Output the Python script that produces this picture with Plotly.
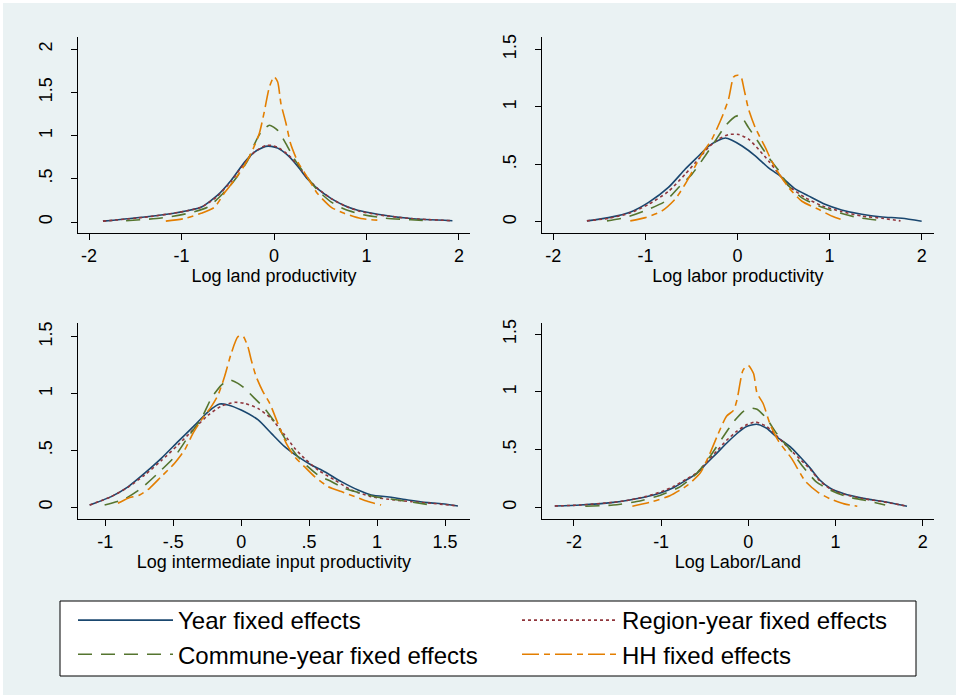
import plotly.graph_objects as go

W, H = 959, 698

series_names = ["Year fixed effects", "Region-year fixed effects",
                "Commune-year fixed effects", "HH fixed effects"]
series_colors = ["#1A476F", "#90353B", "#55752F", "#E37E00"]
series_dash = ["solid", "3px,3px", "14px,9px", "17px,5px,6px,5px"]

panel_titles = ["Log land productivity", "Log labor productivity",
                "Log intermediate input productivity", "Log Labor/Land"]

# ---- Panel 1: Log land productivity ----
land_year_x = [-1.85, -1.4, -1.04, -0.79, -0.61, -0.465, -0.32, -0.21, -0.09, -0.03, 0.04, 0.15, 0.26, 0.36, 0.47, 0.62, 0.76, 0.905, 1.12, 1.48, 1.93]
land_year_y = [0.01, 0.058, 0.11, 0.17, 0.31, 0.48, 0.69, 0.81, 0.875, 0.875, 0.855, 0.77, 0.64, 0.50, 0.385, 0.27, 0.19, 0.135, 0.09, 0.04, 0.015]
land_region_x = [-1.85, -1.4, -1.04, -0.79, -0.61, -0.465, -0.32, -0.21, -0.09, -0.03, 0.04, 0.15, 0.26, 0.36, 0.47, 0.62, 0.76, 0.905, 1.12, 1.48, 1.93]
land_region_y = [0.01, 0.055, 0.11, 0.17, 0.30, 0.47, 0.68, 0.81, 0.885, 0.886, 0.865, 0.78, 0.655, 0.51, 0.39, 0.27, 0.19, 0.13, 0.085, 0.04, 0.015]
land_commune_x = [-1.6, -1.22, -0.93, -0.72, -0.57, -0.43, -0.285, -0.21, -0.14, -0.05, 0.04, 0.13, 0.22, 0.33, 0.47, 0.62, 0.76, 0.94, 1.19, 1.48, 1.66]
land_commune_y = [0.015, 0.046, 0.10, 0.17, 0.31, 0.48, 0.71, 0.905, 1.04, 1.12, 1.06, 0.905, 0.73, 0.56, 0.37, 0.23, 0.15, 0.09, 0.046, 0.027, 0.015]
land_hh_x = [-1.17, -0.97, -0.79, -0.645, -0.54, -0.43, -0.32, -0.25, -0.16, -0.11, -0.05, 0.0, 0.04, 0.075, 0.13, 0.18, 0.26, 0.36, 0.47, 0.62, 0.76, 0.94, 1.14]
land_hh_y = [0.01, 0.04, 0.10, 0.17, 0.33, 0.48, 0.655, 0.79, 1.02, 1.25, 1.56, 1.68, 1.62, 1.37, 1.14, 0.905, 0.69, 0.52, 0.33, 0.17, 0.10, 0.04, 0.02]

# ---- Panel 2: Log labor productivity ----
labor_year_x = [-1.635, -1.4, -1.16, -0.965, -0.75, -0.567, -0.42, -0.313, -0.205, -0.13, -0.06, 0.05, 0.193, 0.338, 0.48, 0.63, 0.77, 0.95, 1.13, 1.35, 1.57, 1.786, 2.0]
labor_year_y = [0.01, 0.038, 0.087, 0.17, 0.30, 0.46, 0.575, 0.66, 0.71, 0.73, 0.71, 0.66, 0.575, 0.47, 0.39, 0.285, 0.227, 0.154, 0.105, 0.067, 0.044, 0.032, 0.006]
labor_region_x = [-1.635, -1.4, -1.16, -0.965, -0.75, -0.567, -0.42, -0.313, -0.205, -0.096, 0.013, 0.12, 0.23, 0.338, 0.45, 0.56, 0.74, 0.92, 1.13, 1.35, 1.57, 1.77]
labor_region_y = [0.01, 0.032, 0.08, 0.154, 0.265, 0.416, 0.55, 0.65, 0.72, 0.76, 0.76, 0.72, 0.63, 0.53, 0.416, 0.31, 0.21, 0.14, 0.09, 0.052, 0.032, 0.01]
labor_commune_x = [-1.417, -1.22, -1.0, -0.784, -0.64, -0.494, -0.35, -0.24, -0.13, -0.024, 0.03, 0.12, 0.23, 0.338, 0.45, 0.555, 0.70, 0.88, 1.06, 1.31, 1.59]
labor_commune_y = [0.01, 0.038, 0.10, 0.18, 0.30, 0.416, 0.575, 0.706, 0.837, 0.916, 0.925, 0.82, 0.69, 0.56, 0.445, 0.314, 0.21, 0.14, 0.09, 0.038, 0.01]
labor_hh_x = [-1.164, -1.0, -0.82, -0.675, -0.567, -0.476, -0.386, -0.277, -0.169, -0.096, -0.042, 0.0, 0.037, 0.067, 0.12, 0.193, 0.30, 0.41, 0.555, 0.70, 0.88, 1.03, 1.17]
labor_hh_y = [0.01, 0.038, 0.096, 0.20, 0.33, 0.46, 0.59, 0.72, 0.91, 1.07, 1.26, 1.275, 1.265, 1.17, 0.98, 0.82, 0.65, 0.47, 0.30, 0.18, 0.11, 0.05, 0.01]

# ---- Panel 3: Log intermediate input productivity ----
inter_year_x = [-1.115, -0.956, -0.833, -0.71, -0.588, -0.465, -0.343, -0.244, -0.159, -0.097, 0.0, 0.123, 0.222, 0.32, 0.418, 0.516, 0.614, 0.737, 0.86, 0.957, 1.105, 1.227, 1.374, 1.497, 1.595]
inter_year_y = [0.02, 0.094, 0.18, 0.30, 0.43, 0.577, 0.72, 0.84, 0.908, 0.90, 0.855, 0.77, 0.65, 0.533, 0.445, 0.372, 0.313, 0.226, 0.152, 0.108, 0.088, 0.064, 0.041, 0.029, 0.012]
inter_region_x = [-1.115, -0.956, -0.833, -0.71, -0.588, -0.465, -0.343, -0.244, -0.146, -0.048, 0.025, 0.123, 0.222, 0.32, 0.393, 0.466, 0.565, 0.688, 0.81, 0.957, 1.13, 1.25, 1.40, 1.595]
inter_region_y = [0.02, 0.094, 0.176, 0.284, 0.41, 0.548, 0.694, 0.81, 0.89, 0.923, 0.914, 0.87, 0.78, 0.636, 0.52, 0.43, 0.328, 0.24, 0.152, 0.094, 0.064, 0.05, 0.035, 0.012]
inter_commune_x = [-1.005, -0.858, -0.735, -0.612, -0.49, -0.39, -0.293, -0.22, -0.146, -0.085, -0.024, 0.025, 0.099, 0.172, 0.27, 0.344, 0.418, 0.491, 0.565, 0.663, 0.76, 0.884, 1.006, 1.154, 1.399]
inter_commune_y = [0.02, 0.073, 0.167, 0.30, 0.445, 0.62, 0.78, 0.958, 1.075, 1.12, 1.09, 1.046, 0.958, 0.87, 0.71, 0.563, 0.445, 0.357, 0.284, 0.226, 0.167, 0.123, 0.088, 0.064, 0.02]
inter_hh_x = [-0.907, -0.833, -0.747, -0.674, -0.588, -0.49, -0.416, -0.355, -0.293, -0.22, -0.17, -0.122, -0.073, -0.024, 0.013, 0.05, 0.074, 0.11, 0.16, 0.21, 0.27, 0.332, 0.393, 0.466, 0.54, 0.64, 0.737, 0.835, 0.933, 1.03]
inter_hh_y = [0.035, 0.08, 0.108, 0.167, 0.27, 0.387, 0.504, 0.65, 0.768, 0.885, 0.987, 1.15, 1.354, 1.50, 1.506, 1.41, 1.295, 1.15, 1.017, 0.914, 0.738, 0.563, 0.445, 0.357, 0.27, 0.182, 0.138, 0.094, 0.05, 0.02]

# ---- Panel 4: Log Labor/Land ----
ll_year_x = [-2.22, -1.93, -1.55, -1.36, -1.17, -1.0, -0.86, -0.71, -0.59, -0.48, -0.36, -0.25, -0.13, -0.02, 0.096, 0.21, 0.325, 0.48, 0.59, 0.71, 0.82, 0.94, 1.09, 1.32, 1.55, 1.82]
ll_year_y = [0.012, 0.02, 0.043, 0.064, 0.092, 0.127, 0.17, 0.237, 0.295, 0.38, 0.47, 0.555, 0.64, 0.70, 0.72, 0.685, 0.61, 0.526, 0.44, 0.34, 0.237, 0.165, 0.12, 0.078, 0.05, 0.01]
ll_region_x = [-2.22, -1.93, -1.55, -1.36, -1.17, -1.0, -0.86, -0.71, -0.59, -0.48, -0.36, -0.25, -0.13, -0.02, 0.08, 0.21, 0.325, 0.48, 0.59, 0.71, 0.82, 0.94, 1.09, 1.32, 1.55, 1.82]
ll_region_y = [0.012, 0.02, 0.043, 0.064, 0.095, 0.135, 0.18, 0.245, 0.30, 0.39, 0.49, 0.58, 0.66, 0.715, 0.74, 0.70, 0.62, 0.50, 0.42, 0.33, 0.23, 0.16, 0.115, 0.075, 0.048, 0.01]
ll_commune_x = [-1.87, -1.55, -1.28, -1.0, -0.78, -0.59, -0.44, -0.29, -0.17, -0.06, 0.02, 0.1, 0.21, 0.325, 0.48, 0.63, 0.78, 0.94, 1.13, 1.32, 1.57]
ll_commune_y = [0.01, 0.02, 0.05, 0.107, 0.18, 0.295, 0.44, 0.61, 0.74, 0.83, 0.86, 0.85, 0.77, 0.64, 0.50, 0.35, 0.22, 0.15, 0.092, 0.064, 0.02]
ll_hh_x = [-1.33, -1.1, -0.9, -0.7, -0.55, -0.45, -0.35, -0.25, -0.17, -0.13, -0.06, 0.0, 0.06, 0.1, 0.17, 0.25, 0.35, 0.5, 0.65, 0.8, 0.95, 1.1, 1.25]
ll_hh_y = [0.01, 0.05, 0.10, 0.19, 0.30, 0.45, 0.63, 0.79, 0.84, 0.93, 1.19, 1.23, 1.16, 0.99, 0.90, 0.72, 0.57, 0.42, 0.23, 0.13, 0.07, 0.03, 0.01]

# axis tick values / labels
x_ticks = [[-2, -1, 0, 1, 2], [-2, -1, 0, 1, 2], [-1, -0.5, 0, 0.5, 1, 1.5], [-2, -1, 0, 1, 2]]
x_ticktext = [["-2", "-1", "0", "1", "2"], ["-2", "-1", "0", "1", "2"],
              ["-1", "-.5", "0", ".5", "1", "1.5"], ["-2", "-1", "0", "1", "2"]]
y_ticks = [[0, 0.5, 1, 1.5, 2], [0, 0.5, 1, 1.5], [0, 0.5, 1, 1.5], [0, 0.5, 1, 1.5]]
y_ticktext = [["0", ".5", "1", "1.5", "2"], ["0", ".5", "1", "1.5"], ["0", ".5", "1", "1.5"], ["0", ".5", "1", "1.5"]]

panels = [
    [(land_year_x, land_year_y), (land_region_x, land_region_y), (land_commune_x, land_commune_y), (land_hh_x, land_hh_y)],
    [(labor_year_x, labor_year_y), (labor_region_x, labor_region_y), (labor_commune_x, labor_commune_y), (labor_hh_x, labor_hh_y)],
    [(inter_year_x, inter_year_y), (inter_region_x, inter_region_y), (inter_commune_x, inter_commune_y), (inter_hh_x, inter_hh_y)],
    [(ll_year_x, ll_year_y), (ll_region_x, ll_region_y), (ll_commune_x, ll_commune_y), (ll_hh_x, ll_hh_y)],
]

# layout geometry (pixels)
px_boxes = [(78, 470, 37, 233), (541.7, 934, 37, 233), (77.7, 470, 323.3, 519), (541.7, 934, 323.3, 519)]
x_ranges = [[-2.12, 2.12], [-2.126, 2.134], [-1.203, 1.684], [-2.37, 2.13]]
y_ranges = [[-0.127, 2.14], [-0.0956, 1.607], [-0.103, 1.618], [-0.101, 1.595]]
legend_box = (60, 916, 601, 676)

FONT = "Liberation Sans, Arial, Helvetica, sans-serif"
BG = "#EAF2F3"

fig = go.Figure()

for p, curves in enumerate(panels):
    xa = "x" if p == 0 else f"x{p+1}"
    ya = "y" if p == 0 else f"y{p+1}"
    for s in [0, 1, 2, 3]:
        cx, cy = curves[s]
        fig.add_trace(go.Scatter(
            x=cx, y=cy, mode="lines", xaxis=xa, yaxis=ya,
            name=series_names[s], legendgroup=series_names[s],
            showlegend=(p == 0),
            line=dict(color=series_colors[s], width=1.6, dash=series_dash[s],
                      shape="spline", smoothing=0.6),
        ))

lb = legend_box
layout = dict(
    width=W, height=H,
    margin=dict(l=0, r=0, t=0, b=0, autoexpand=False),
    paper_bgcolor="white",
    plot_bgcolor="white",
    font=dict(family=FONT, color="black", size=18),
    showlegend=True,
    legend=dict(
        orientation="h", x=73 / W, y=1 - 598 / H, xanchor="left", yanchor="top",
        bgcolor="rgba(0,0,0,0)", borderwidth=0,
        font=dict(family=FONT, size=24, color="black"),
        entrywidth=334, entrywidthmode="pixels", itemwidth=95,
        traceorder="normal", tracegroupgap=0,
    ),
    shapes=[
        dict(type="rect", xref="paper", yref="paper",
             x0=3 / W, x1=1 - 3 / W, y0=3 / H, y1=1 - 3 / H,
             fillcolor=BG, line=dict(width=0), layer="below"),
        dict(type="rect", xref="paper", yref="paper",
             x0=lb[0] / W, x1=lb[1] / W, y0=1 - lb[3] / H, y1=1 - lb[2] / H,
             fillcolor="white", line=dict(color="black", width=1), layer="below"),
    ],
)

for p in range(4):
    x0, x1, y0, y1 = px_boxes[p]
    kx = "xaxis" if p == 0 else f"xaxis{p+1}"
    ky = "yaxis" if p == 0 else f"yaxis{p+1}"
    ax_x = "x" if p == 0 else f"x{p+1}"
    ax_y = "y" if p == 0 else f"y{p+1}"
    layout[kx] = dict(
        domain=[x0 / W, x1 / W], anchor=ax_y, range=x_ranges[p],
        tickmode="array", tickvals=x_ticks[p], ticktext=x_ticktext[p],
        showline=True, linecolor="black", linewidth=1,
        ticks="outside", ticklen=6, tickcolor="black", tickwidth=1,
        showgrid=False, zeroline=False,
        tickfont=dict(size=18), ticklabelstandoff=0,
        title=dict(text=panel_titles[p], font=dict(size=18), standoff=0),
    )
    layout[ky] = dict(
        domain=[1 - y1 / H, 1 - y0 / H], anchor=ax_x, range=y_ranges[p],
        tickmode="array", tickvals=y_ticks[p], ticktext=y_ticktext[p],
        tickangle=-90,
        showline=True, linecolor="black", linewidth=1,
        ticks="outside", ticklen=6, tickcolor="black", tickwidth=1,
        showgrid=True, gridcolor=BG, gridwidth=1.5, zeroline=False,
        tickfont=dict(size=18), ticklabelstandoff=12,
    )

fig.update_layout(**layout)
fig.write_html("out.html", config={"displayModeBar": False},
               post_script="document.body.style.margin='0';")
